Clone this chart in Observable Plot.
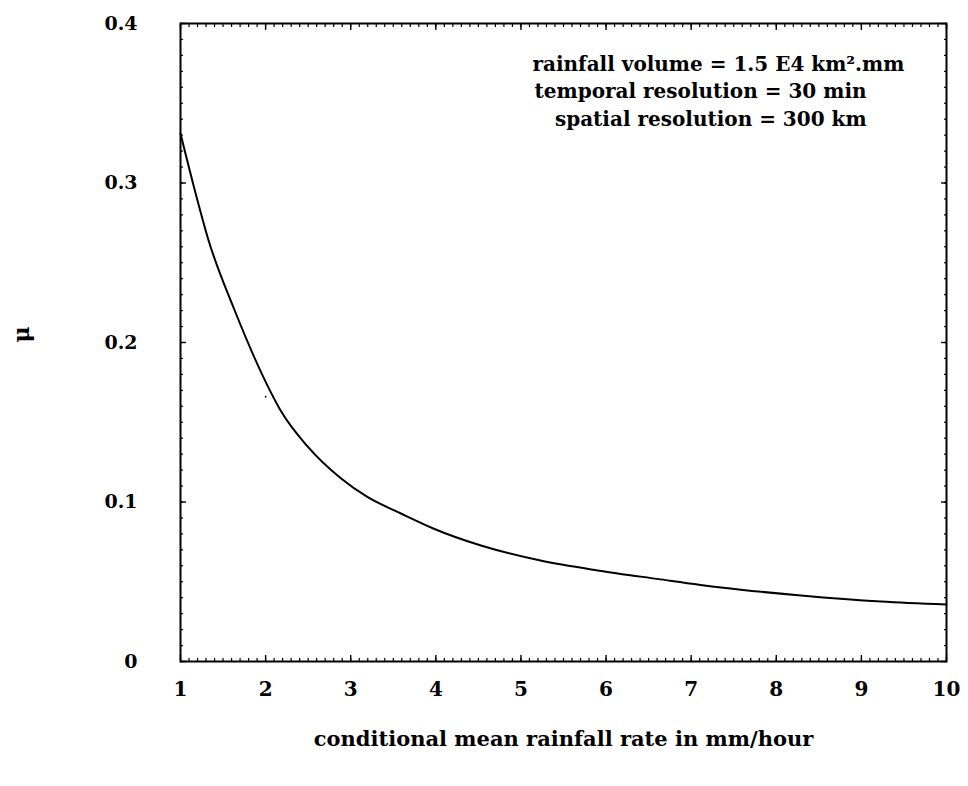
<!DOCTYPE html>
<html><head><meta charset="utf-8">
<script src="https://cdn.jsdelivr.net/npm/d3@7"></script>
<script src="https://cdn.jsdelivr.net/npm/@observablehq/plot@0.6"></script>
<style>body{margin:0;background:#fff}</style>
</head><body><div id="chart"></div>
<script>
// curve
const rate = [1, 1.18, 1.33, 1.63, 2.05, 2.18, 2.49, 2.88, 3.2, 3.59, 3.97, 4.53, 5.23, 5.9, 6.6, 7.35, 8.29, 9.23, 10];
const mu   = [0.331, 0.293, 0.264, 0.221, 0.170, 0.157, 0.135, 0.115, 0.103, 0.0928, 0.0834, 0.0727, 0.0633, 0.0571, 0.0518, 0.0464, 0.0414, 0.0376, 0.0357];

// stray speck in the scan
const speckX = [2.0];
const speckY = [0.166];

const xTicks = [1, 2, 3, 4, 5, 6, 7, 8, 9, 10];
const xTickLabels = ["1", "2", "3", "4", "5", "6", "7", "8", "9", "10"];
const yTicks = [0, 0.1, 0.2, 0.3, 0.4];
const yTickLabels = ["0", "0.1", "0.2", "0.3", "0.4"];

const xTitle = "conditional mean rainfall rate in mm/hour";
const yTitle = "μ";

const notes = ["rainfall volume = 1.5 E4 km\u00B2.mm", "temporal resolution = 30 min", "spatial resolution = 300 km"];
const noteX = [7.32, 7.11, 7.23];
const noteY = [0.3705, 0.3536, 0.336];

const curve = rate.map((r, i) => ({rate: r, mu: mu[i]}));
const speck = speckX.map((x, i) => ({x, y: speckY[i]}));
const noteData = notes.map((t, i) => ({t, x: noteX[i], y: noteY[i]}));

const minorX = d3.range(10, 101).map(d => d / 10);
const minorY = d3.range(0, 41).map(d => d / 100);

const font = "'DejaVu Serif', serif";

const chart = Plot.plot({
  width: 968,
  height: 786,
  marginLeft: 180,
  marginRight: 22,
  marginTop: 23,
  marginBottom: 125,
  x: {domain: [1, 10]},
  y: {domain: [0, 0.4]},
  style: {fontFamily: font, fontWeight: "bold", color: "#000", background: "#fff", overflow: "visible"},
  marks: [
    // inward minor ticks on all four sides
    Plot.axisX({ticks: minorX, anchor: "bottom", tickSize: -3, tickFormat: () => "", label: null, strokeWidth: 1.2}),
    Plot.axisX({ticks: minorX, anchor: "top", tickSize: -3, tickFormat: () => "", label: null, strokeWidth: 1.2}),
    Plot.axisY({ticks: minorY, anchor: "left", tickSize: -3, tickFormat: () => "", label: null, strokeWidth: 1.2}),
    Plot.axisY({ticks: minorY, anchor: "right", tickSize: -3, tickFormat: () => "", label: null, strokeWidth: 1.2}),
    // inward major ticks
    Plot.axisX({ticks: xTicks, anchor: "bottom", tickSize: -6, tickFormat: () => "", label: null, strokeWidth: 1.4}),
    Plot.axisX({ticks: xTicks, anchor: "top", tickSize: -6, tickFormat: () => "", label: null, strokeWidth: 1.4}),
    Plot.axisY({ticks: yTicks, anchor: "left", tickSize: -6, tickFormat: () => "", label: null, strokeWidth: 1.4}),
    Plot.axisY({ticks: yTicks, anchor: "right", tickSize: -6, tickFormat: () => "", label: null, strokeWidth: 1.4}),
    // tick labels
    Plot.axisX({ticks: xTicks, anchor: "bottom", tickSize: 0, tickPadding: 20, fontSize: 20, fontWeight: "bold",
      tickFormat: (d) => xTickLabels[xTicks.indexOf(d)], label: null}),
    Plot.axisY({ticks: yTicks, anchor: "left", tickSize: 0, tickPadding: 43, fontSize: 19, fontWeight: "bold",
      tickFormat: (d) => yTickLabels[yTicks.indexOf(d)], label: null}),
    Plot.frame({stroke: "#000", strokeWidth: 2}),
    Plot.line(curve, {x: "rate", y: "mu", curve: "monotone-x", stroke: "#000", strokeWidth: 2}),
    Plot.dot(speck, {x: "x", y: "y", r: 0.9, fill: "#000", stroke: null}),
    Plot.text(noteData, {x: "x", y: "y", text: "t", textAnchor: "middle", lineAnchor: "bottom",
      fontSize: 20, fontWeight: "bold", fill: "#000"}),
    Plot.text([xTitle], {frameAnchor: "bottom", dy: 84, fontSize: 21, fontWeight: "bold", fill: "#000"}),
    Plot.text([yTitle], {frameAnchor: "left", dx: -159, rotate: -90, fontSize: 22, fontWeight: "bold", fill: "#000"})
  ]
});
document.getElementById("chart").appendChild(chart);
</script>
</body></html>
